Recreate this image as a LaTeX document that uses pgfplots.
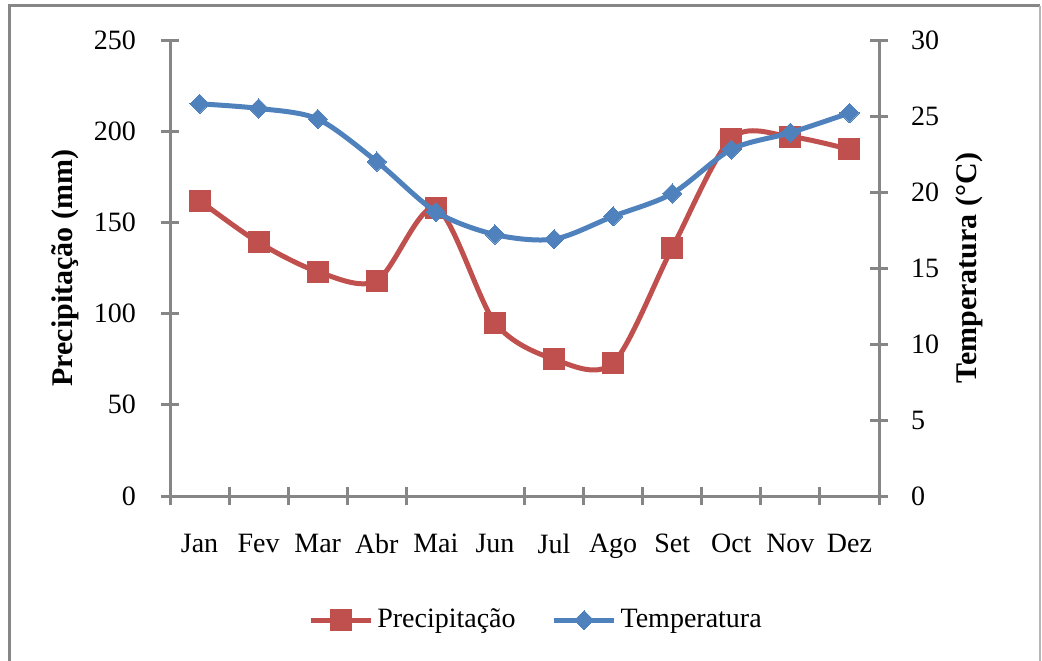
\documentclass[border=0pt]{standalone}
\usepackage{pgfplots}
\pgfplotsset{compat=1.18}
\usepackage{fontspec}
\setmainfont{Liberation Serif}
\definecolor{precip}{RGB}{192,80,77}
\definecolor{temp}{RGB}{79,129,189}
\definecolor{axgray}{RGB}{134,134,134}
\begin{document}
\begin{tikzpicture}
\useasboundingbox (-85pt,-82pt) rectangle (436pt,248pt);
\draw[axgray, line width=1.5pt] (-80pt,-90pt) -- (-80pt,245pt) -- (435pt,245pt);
\draw[axgray!60, line width=0.7pt] (435pt,245pt) -- (435pt,-90pt);
\pgfplotsset{
 common/.style={
  scale only axis, width=354.5pt, height=228pt,
  xmin=0.5, xmax=12.5,
  axis line style={axgray, line width=1.5pt},
  tick style={axgray, line width=1.5pt},
  major tick length=9pt, minor tick length=9pt,
  tick align=center,
  ticklabel style={font=\fontsize{14}{16}\selectfont},
  /pgf/number format/assume math mode=true,
  clip=false,
  legend image code/.code={\draw[mark repeat=2,mark phase=2,##1] plot coordinates {(0pt,0pt) (15pt,0pt) (30pt,0pt)};},
 }
}
\begin{axis}[common,
 axis x line*=bottom, axis y line*=left,
 ymin=0, ymax=250, ytick={0,50,...,250},
 xtick={1,...,12},
 xticklabels={Jan,Fev,Mar,Abr,Mai,Jun,Jul,Ago,Set,Oct,Nov,Dez},
 major x tick style={draw=none},
 minor xtick={0.5,1.5,2.5,3.5,4.5,6.5,7.5,8.5,9.5,10.5,11.5,12.5},
 xticklabel style={yshift=-11pt},
 yticklabel style={xshift=-9pt},
 ylabel={\textbf{Precipitação (mm)}},
 ylabel style={at={(axis description cs:-0.148,0.5)}, anchor=center, font=\fontsize{15}{17}\selectfont},
 legend style={draw=none, fill=none, at={(0.5176,-0.272)}, anchor=center, legend columns=2,
   font=\fontsize{14}{16}\selectfont,
   /tikz/every even column/.append style={column sep=16pt}},
 legend cell align=left,
]
\addplot[precip, line width=2.5pt, smooth, mark=square*, mark size=5.25pt, mark options={solid, fill=precip, line width=0pt}]
 coordinates {(1,162) (2,139) (3,123) (4,118) (5,158) (6,95) (7,75) (8,73) (9,136) (10,196) (11,197) (12,190)};
\addlegendentry{Precipitação}
\addlegendimage{temp, line width=2.5pt, mark=square*, mark size=3.4pt, mark options={solid, fill=temp, line width=0pt, rotate=45}}
\addlegendentry{Temperatura}
\end{axis}
\begin{axis}[common,
 axis x line=none, axis y line*=right,
 ymin=0, ymax=30, ytick={0,5,...,30},
 yticklabel style={xshift=8pt},
 ylabel={\textbf{Temperatura (°C)}},
 ylabel style={at={(axis description cs:1.128,0.5)}, anchor=center, rotate=0, font=\fontsize{15}{17}\selectfont},
]
\addplot[temp, line width=2.5pt, smooth, mark=square*, mark size=3.4pt, mark options={solid, fill=temp, line width=0pt, rotate=45}]
 coordinates {(1,25.8) (2,25.5) (3,24.8) (4,22.0) (5,18.7) (6,17.2) (7,16.9) (8,18.4) (9,19.9) (10,22.8) (11,23.9) (12,25.2)};
\end{axis}
\end{tikzpicture}
\end{document}
